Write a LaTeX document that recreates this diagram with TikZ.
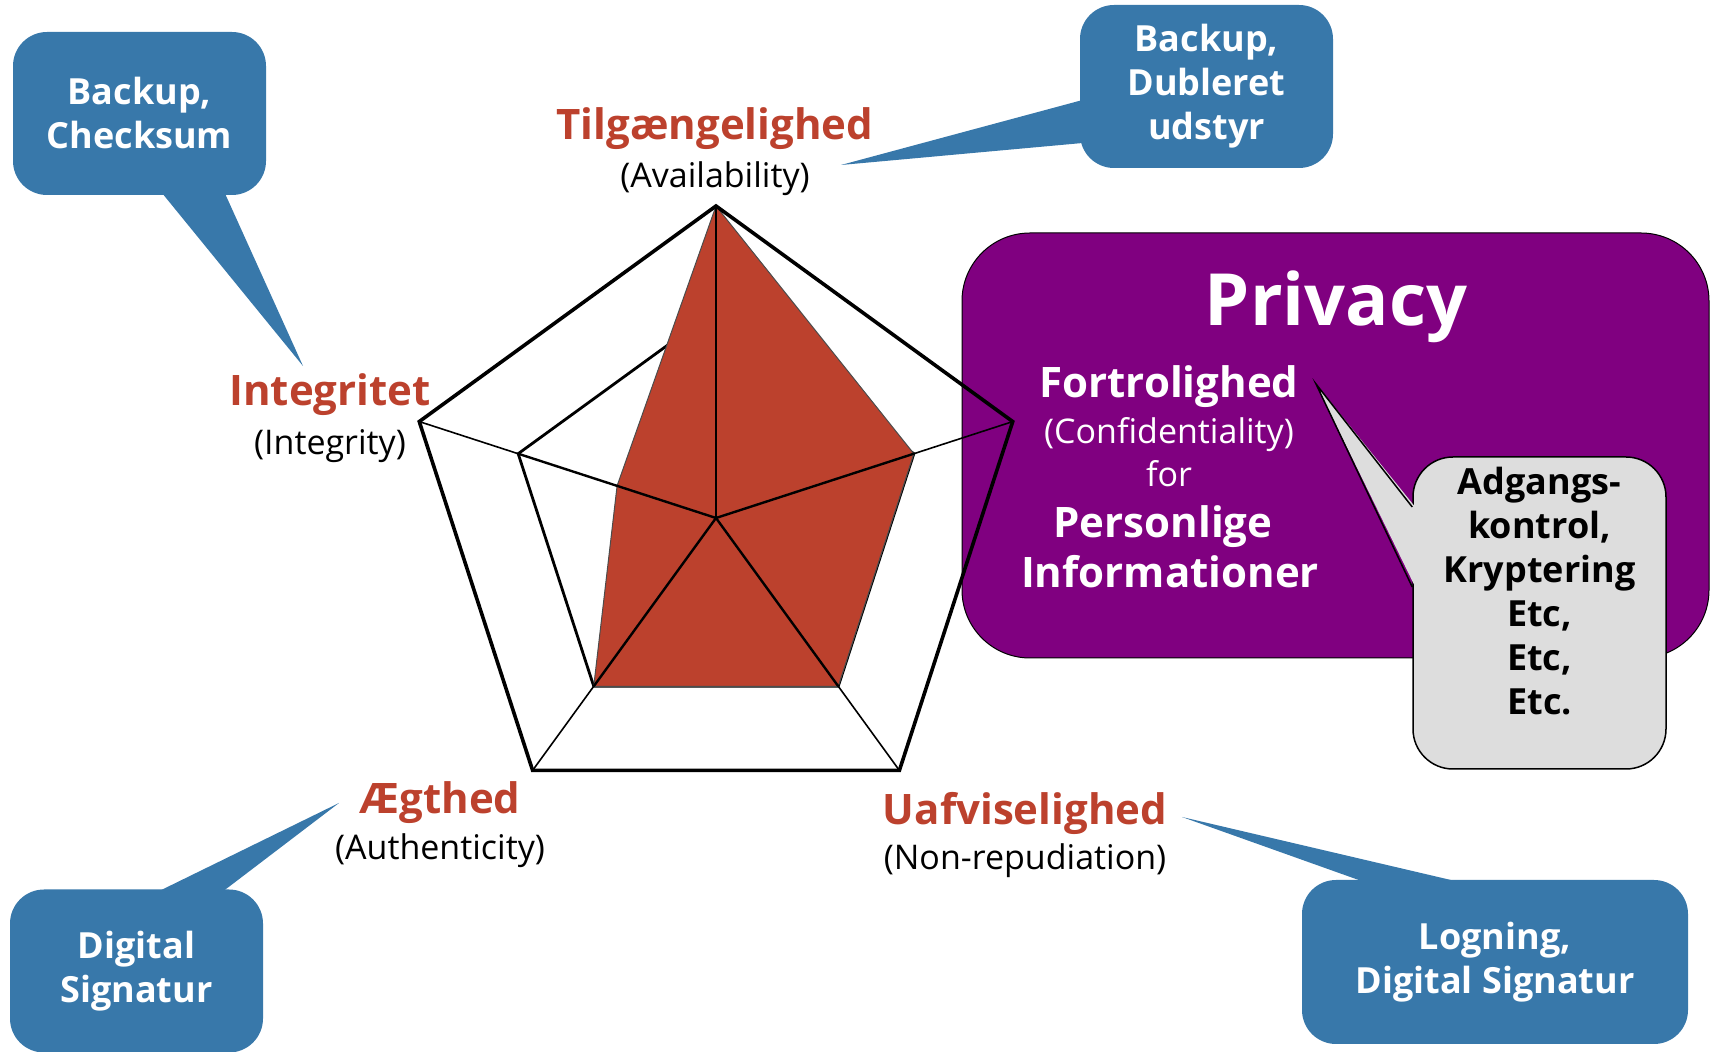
\documentclass[tikz,border=0pt]{standalone}
\usepackage{fontspec}
\setmainfont{Open Sans}
\usepackage{xcolor}
\usepackage{tikz}
\usetikzlibrary{calc}

\definecolor{ciared}{RGB}{188,65,45}
\definecolor{ciablue}{RGB}{56,120,170}
\definecolor{privpurple}{RGB}{128,0,128}
\definecolor{notegray}{RGB}{221,221,221}

\newcommand{\redfont}{\fontsize{21}{25}\selectfont\bfseries}
\newcommand{\engfont}{\fontsize{17}{20}\selectfont}
\newcommand{\boxfont}{\fontsize{18}{22}\selectfont\bfseries}

\tikzset{
  pillar/.style={anchor=base, inner sep=0pt, text=ciared, font=\redfont},
  english/.style={anchor=base, inner sep=0pt, font=\engfont},
  tipbox/.style={fill=ciablue, rounded corners=17pt, text=white, font=\boxfont,
    align=center, inner sep=0pt, minimum width=126.5pt, minimum height=81.5pt},
  privtext/.style={anchor=base, inner sep=0pt, text=white},
  rim/.style={line width=1.8pt, line join=miter},
  ring/.style={line width=1.4pt},
  spoke/.style={line width=1.2pt},
  spokeout/.style={line width=0.8pt},
  score/.style={fill=ciared, draw=black!70, line width=0.5pt}
}

\begin{document}
\begin{tikzpicture}[x=0.5pt, y=-0.5pt]
\useasboundingbox (0,0) rectangle (1710,1052);

\coordinate (integptr) at (303,366);
\coordinate (availptr) at (841,165);
\coordinate (authptr) at (339,803);
\coordinate (nonrepptr) at (1182,817);
\coordinate (fortroptr) at (1316,384);

\node[tipbox] (integtip) at (139.5,113.5) {Backup,\\Checksum};
\fill[ciablue] ($(integtip.south)+(22,-3)$) -- (integptr) -- ($(integtip.south)+(85,-3)$) -- cycle;

\node[tipbox] (availtip) at (1206.5,86.5) {Backup,\\Dubleret\\udstyr};
\fill[ciablue] ($(availtip.west)+(3,13.5)$) -- (availptr) -- ($(availtip.west)+(3,56.5)$) -- cycle;

\node[tipbox] (authtip) at (136.5,971) {Digital\\Signatur};
\fill[ciablue] ($(authtip.north)+(20.5,3)$) -- (authptr) -- ($(authtip.north)+(85.5,3)$) -- cycle;

\node[tipbox, minimum width=193pt, minimum height=82pt] (nonreptip) at (1495,962) {Logning,\\Digital Signatur};
\fill[ciablue] ($(nonreptip.north)+(-129,3)$) -- (nonrepptr) -- ($(nonreptip.north)+(-33,3)$) -- cycle;

\node[fill=privpurple, draw=black, line width=0.5pt, rounded corners=34pt,
  minimum width=373.5pt, minimum height=212.5pt, inner sep=0pt] (privbox) at (1335.5,445.5) {};
\node[privtext, font=\fontsize{36}{40}\selectfont\bfseries] (privtitle) at (1336,326) {Privacy};
\node[privtext, font=\redfont] (fortro) at (1169,398) {Fortrolighed};
\node[privtext, font=\engfont] (confid) at (1169,444) {(Confidentiality)};
\node[privtext, font=\engfont] (forword) at (1169,487) {for};
\node[privtext, font=\redfont] (perso) at (1163,538) {Personlige};
\node[privtext, font=\redfont] (inform) at (1170,588) {Informationer};

\node[fill=notegray, draw=black, line width=0.75pt, rounded corners=20pt,
  minimum width=126.5pt, minimum height=156pt, inner sep=0pt] (toolbox) at (1539.5,613) {};
\fill[notegray] ($(toolbox.west)+(3,-106)$) -- (fortroptr) -- ($(toolbox.west)+(3,-26)$) -- cycle;
\draw[line width=0.75pt] ($(toolbox.west)+(0,-106)$) -- (fortroptr) -- ($(toolbox.west)+(0,-26)$);
\node[font=\boxfont, align=center, inner sep=0pt] (tooltxt) at (1539.5,591)
  {Adgangs-\\kontrol,\\Kryptering\\Etc,\\Etc,\\Etc.};

\begin{scope}[shift={(716,518)}, y=0.5pt]
\draw[ring] (90:208) -- (162:208) -- (234:208) -- (306:208) -- (18:208) -- cycle;
\filldraw[score] (90:312) -- (162:104) -- (234:208) -- (306:208) -- (18:208) -- cycle;
\foreach \a in {90,162,234,306,18} {
  \draw[spoke] (0,0) -- (\a:208);
  \draw[spokeout] (\a:208) -- (\a:312);
}
\draw[rim] (90:312) -- (162:312) -- (234:312) -- (306:312) -- (18:312) -- cycle;
\end{scope}

\node[pillar] (avail) at (715,140) {Tilgængelighed};
\node[english] (availen) at (715,188) {(Availability)};
\node[pillar] (integ) at (330,406) {Integritet};
\node[english] (integen) at (330,455) {(Integrity)};
\node[pillar] (auth) at (440,814) {Ægthed};
\node[english] (authen) at (440,860) {(Authenticity)};
\node[pillar] (nonrep) at (1025,825) {Uafviselighed};
\node[english] (nonrepen) at (1025,870) {(Non-repudiation)};

\end{tikzpicture}
\end{document}
